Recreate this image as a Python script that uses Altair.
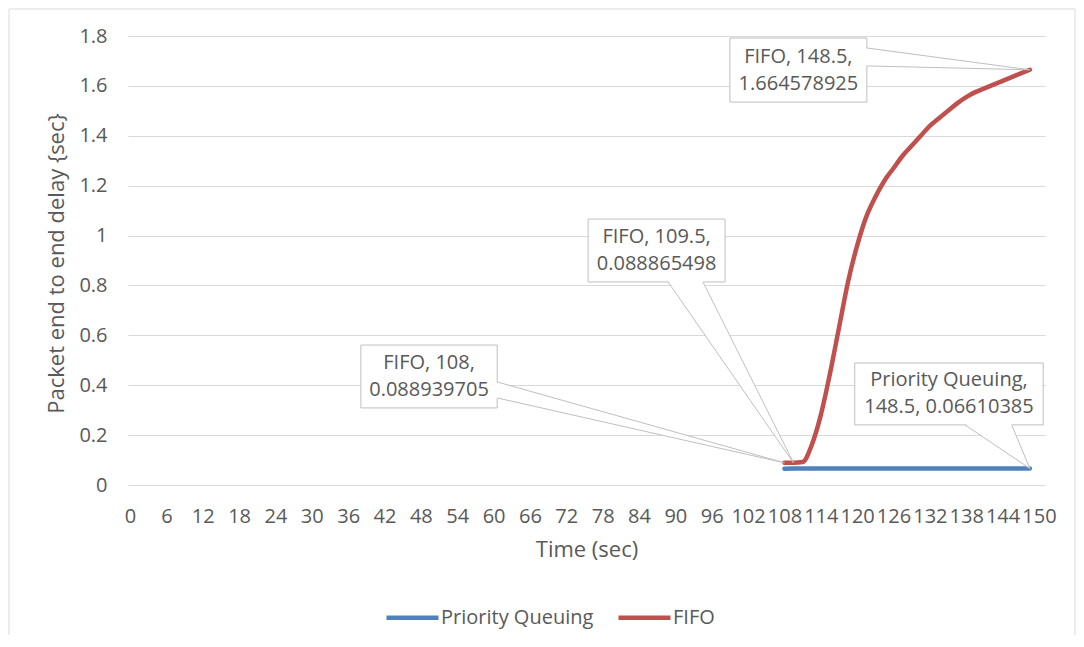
import altair as alt
import pandas as pd

FONT = "Open Sans"
TXT = "#595959"
GRID = "#d9d9d9"
CALLOUT = "#bfbfbf"

# ---------------- data ----------------
times = [108, 109.5, 111, 112.5, 114, 115.5, 117, 118.5, 120, 121.5, 123, 124.5,
         126, 127.5, 129, 130.5, 132, 133.5, 135, 136.5, 138, 139.5, 141, 142.5,
         144, 145.5, 147, 148.5]
fifo = [0.088939705, 0.088865498, 0.092, 0.16, 0.28, 0.445, 0.63, 0.815, 0.96,
        1.075, 1.155, 1.22, 1.27, 1.32, 1.36, 1.40, 1.44, 1.47, 1.50, 1.53, 1.555,
        1.575, 1.59, 1.605, 1.62, 1.635, 1.65, 1.664578925]
prio = [0.0656, 0.0657, 0.0657, 0.0658, 0.0658, 0.0659, 0.0659, 0.0659, 0.0660,
        0.0660, 0.0660, 0.0660, 0.0660, 0.0661, 0.0661, 0.0661, 0.0661, 0.0661,
        0.0661, 0.0661, 0.0661, 0.0661, 0.0661, 0.0661, 0.0661, 0.0661, 0.0661,
        0.06610385]
series_names = ["Priority Queuing", "FIFO"]
series_colors = ["#4F81BD", "#C0504D"]
x_ticks = [0, 6, 12, 18, 24, 30, 36, 42, 48, 54, 60, 66, 72, 78, 84, 90, 96, 102,
           108, 114, 120, 126, 132, 138, 144, 150]
y_ticks = [0, 0.2, 0.4, 0.6, 0.8, 1, 1.2, 1.4, 1.6, 1.8]

# callouts: label text, target point, box extent (data units)
call_text = ["FIFO, 148.5,\n1.664578925", "FIFO, 109.5,\n0.088865498",
             "FIFO, 108,\n0.088939705", "Priority Queuing,\n148.5, 0.06610385"]
call_tx = [148.5, 109.5, 108, 148.5]
call_ty = [1.664578925, 0.088865498, 0.088939705, 0.06610385]
box_x1 = [99.0, 75.6, 38.1, 119.6]
box_x2 = [121.6, 98.2, 60.6, 150.7]
box_y1 = [1.535, 0.814, 0.309, 0.241]
box_y2 = [1.792, 1.066, 0.561, 0.489]
# wedge base: side of the box ('right' or 'bottom') and the two base coordinates
wedge_side = ["right", "bottom", "right", "bottom"]
wedge_a = [1.680, 88.8, 0.349, 137.8]
wedge_b = [1.752, 94.55, 0.413, 145.5]

# ---------------- tables ----------------
lines_df = pd.DataFrame({
    "time": times + times,
    "delay": prio + fifo,
    "series": [series_names[0]] * len(times) + [series_names[1]] * len(times),
})

box_df = pd.DataFrame({
    "x1": box_x1, "x2": box_x2, "y1": box_y1, "y2": box_y2,
    "cx": [(a + b) / 2 for a, b in zip(box_x1, box_x2)],
    "cy": [(a + b) / 2 for a, b in zip(box_y1, box_y2)],
    "label": call_text,
})

v_rows, h_rows, edge_rows = [], [], []
for i in range(len(call_text)):
    if wedge_side[i] == "right":
        bx = box_x2[i]
        v_rows.append({"id": i, "x": bx - 0.25, "y": wedge_a[i], "y2": wedge_b[i]})
        v_rows.append({"id": i, "x": call_tx[i], "y": call_ty[i], "y2": call_ty[i]})
        for yy in (wedge_a[i], wedge_b[i]):
            edge_rows.append({"x": bx, "y": yy, "x2": call_tx[i], "y2": call_ty[i]})
    else:
        by = box_y1[i]
        h_rows.append({"id": i, "y": by + 0.005, "x": wedge_a[i], "x2": wedge_b[i]})
        h_rows.append({"id": i, "y": call_ty[i], "x": call_tx[i], "x2": call_tx[i]})
        for xx in (wedge_a[i], wedge_b[i]):
            edge_rows.append({"x": xx, "y": by, "x2": call_tx[i], "y2": call_ty[i]})
v_df = pd.DataFrame(v_rows)
h_df = pd.DataFrame(h_rows)
e_df = pd.DataFrame(edge_rows)

# ---------------- scales & axes ----------------
xs = alt.Scale(domain=[-0.33, 151], nice=False, zero=False)
ys = alt.Scale(domain=[0, 1.8], nice=False)

x_axis = alt.Axis(
    values=x_ticks, format="d", title="Time (sec)", grid=False,
    labelOverlap=False, labelBound=False, labelFlush=False,
    labelPadding=21, titleY=64, titleX=458.5, titleBaseline="middle")
y_axis = alt.Axis(
    values=y_ticks, labelExpr="format(datum.value, '~g')",
    title="Packet end to end delay {sec}", grid=True, labelPadding=21,
    labelOverlap=False,
    titleAngle=270, titleX=-72, titleY=227, titleBaseline="middle",
    titleAlign="center")


def X(field):
    return alt.X(field, scale=xs, axis=x_axis)


def Y(field):
    return alt.Y(field, scale=ys, axis=y_axis)


lines = alt.Chart(lines_df).mark_line(
    interpolate="monotone", strokeWidth=4.5, strokeCap="round", strokeJoin="round"
).encode(
    x=X("time:Q"), y=Y("delay:Q"),
    color=alt.Color("series:N", scale=alt.Scale(domain=series_names, range=series_colors),
                    sort=series_names,
                    legend=alt.Legend(orient="none", legendX=256, legendY=553,
                                      direction="horizontal", title=None,
                                      symbolType="stroke", symbolSize=2704,
                                      symbolStrokeWidth=4.5, labelOffset=0,
                                      columnPadding=15, padding=0,
                                      labelFontSize=20, labelFont=FONT,
                                      labelColor=TXT)),
    detail="series:N",
)

boxes = alt.Chart(box_df).mark_rect(fill="white", stroke=CALLOUT, strokeWidth=1).encode(
    x=X("x1:Q"), x2="x2:Q", y=Y("y1:Q"), y2="y2:Q",
)
v_wedges = alt.Chart(v_df).mark_area(orient="vertical", fill="white", interpolate="linear").encode(
    x=X("x:Q"), y=Y("y:Q"), y2="y2:Q", detail="id:N",
)
h_wedges = alt.Chart(h_df).mark_area(orient="horizontal", fill="white", interpolate="linear").encode(
    y=Y("y:Q"), x=X("x:Q"), x2="x2:Q", detail="id:N",
)
edges = alt.Chart(e_df).mark_rule(color=CALLOUT, strokeWidth=1).encode(
    x=X("x:Q"), y=Y("y:Q"), x2="x2:Q", y2="y2:Q",
)
texts = alt.Chart(box_df).mark_text(
    font=FONT, fontSize=20, color=TXT, lineBreak="\n", lineHeight=27,
    align="center", baseline="middle", dy=-13.5
).encode(
    x=X("cx:Q"), y=Y("cy:Q"), text="label:N",
)

# outer chart frame (decoration)
frame_src = alt.Data(values=[{}])
frame_left = alt.Chart(frame_src).mark_rule(color=GRID, strokeWidth=1).encode(
    x=alt.value(-119), y=alt.value(-27), y2=alt.value(600))
frame_top = alt.Chart(frame_src).mark_rule(color=GRID, strokeWidth=1).encode(
    x=alt.value(-119), x2=alt.value(947), y=alt.value(-27))
frame_right = alt.Chart(frame_src).mark_rule(color=GRID, strokeWidth=1).encode(
    x=alt.value(947), y=alt.value(-27), y2=alt.value(600))

chart = alt.layer(
    lines, frame_left, frame_top, frame_right,
    boxes, v_wedges, h_wedges, edges, texts,
).resolve_scale(x="shared", y="shared").properties(
    width=917, height=449,
    autosize=alt.AutoSizeParams(type="none"),
    padding={"left": 120, "top": 28, "right": 31, "bottom": 150},
    background="white",
).configure_view(stroke=None).configure_axis(
    domain=False, ticks=False, tickSize=0,
    labelFont=FONT, labelFontSize=20, labelColor=TXT,
    titleFont=FONT, titleFontSize=22, titleFontWeight="normal", titleColor=TXT,
    gridColor=GRID, gridWidth=1,
).configure_axisX(labelOverlap=False)

chart.save("out.html", embed_options={"renderer": "svg", "actions": False})
